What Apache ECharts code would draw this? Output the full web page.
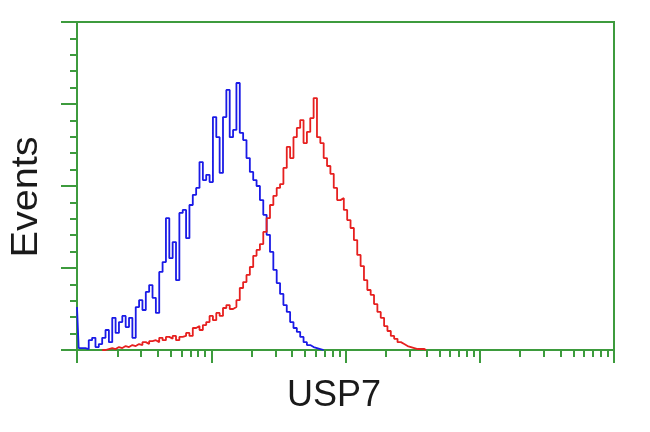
<!DOCTYPE html>
<html>
<head>
<meta charset="utf-8">
<script src="https://cdn.jsdelivr.net/npm/echarts@6/dist/echarts.min.js"></script>
<style>
html,body{margin:0;padding:0;background:#fff;}
#chart{width:650px;height:432px;}
</style>
</head>
<body>
<div id="chart"></div>
<script>
// log10(fluorescence) bin positions
const channels = [
0.000,0.025,0.050,0.075,0.100,0.125,0.150,0.175,0.200,0.225,
0.250,0.275,0.300,0.325,0.350,0.375,0.400,0.425,0.450,0.475,
0.500,0.525,0.550,0.575,0.600,0.625,0.650,0.675,0.700,0.725,
0.750,0.775,0.800,0.825,0.850,0.875,0.900,0.925,0.950,0.975,
1.000,1.025,1.050,1.075,1.100,1.125,1.150,1.175,1.200,1.225,
1.250,1.275,1.300,1.325,1.350,1.375,1.400,1.425,1.450,1.475,
1.500,1.525,1.550,1.575,1.600,1.625,1.650,1.675,1.700,1.725,
1.750,1.775,1.800,1.825,1.850,1.875,1.900,1.925,1.950,1.975,
2.000,2.025,2.050,2.075,2.100,2.125,2.150,2.175,2.200,2.225,
2.250,2.275,2.300,2.325,2.350,2.375,2.400,2.425,2.450,2.475,
2.500,2.525,2.550,2.575,2.600
];
// Events (% of max scale) - isotype control (blue)
const blueEvents = [
13.1,0.6,0.6,0.3,3.0,3.7,0.9,1.8,3.7,6.1,
2.4,9.8,5.2,8.5,10.4,7.0,9.8,3.7,13.1,15.2,
12.2,17.7,19.8,15.9,11.3,23.8,26.8,40.2,28.0,32.9,
21.3,41.8,42.7,34.1,44.2,47.3,49.4,57.3,51.8,53.4,
51.2,71.0,64.9,54.0,71.0,79.3,64.9,67.1,81.4,66.2,
64.0,58.5,54.3,51.8,50.0,45.7,41.2,35.1,29.9,24.4,
20.4,17.1,13.7,11.6,8.5,6.7,5.5,4.0,2.4,1.5,
0.9,0.6,0.3,0.0,null,null,null,null,null,null,
null,null,null,null,null,null,null,null,null,null,
null,null,null,null,null,null,null,null,null,null,
null,null,null,null,null
];
// Events - USP7 stained (red)
const redEvents = [
null,null,null,null,null,null,null,null,0.0,0.3,
0.6,0.3,0.9,0.6,1.2,0.9,1.5,1.2,1.8,1.5,
2.4,1.8,2.7,3.0,2.4,3.7,3.0,4.0,3.4,4.3,
3.0,4.0,4.3,5.2,4.3,6.7,7.3,6.1,7.6,8.5,
10.4,9.1,11.3,10.4,12.8,13.7,12.5,13.1,15.2,18.9,
20.7,22.9,25.3,28.7,30.5,32.3,36.0,40.2,44.2,47.0,
49.4,50.6,55.5,61.9,58.5,64.9,67.7,70.1,63.1,66.5,
70.7,76.8,64.9,63.1,58.5,56.1,53.7,49.4,45.7,46.3,
42.7,39.6,37.2,33.5,29.0,25.6,21.3,18.3,16.8,14.0,
11.6,9.8,7.3,5.8,4.3,3.4,2.4,1.8,1.2,0.9,
0.6,0.3,0.3,0.3,0.0
];
const decades = [0, 1, 2, 3];
const minorMultipliers = [2, 3, 4, 5, 6, 7, 8, 9];
const xTitle = 'USP7';
const yTitle = 'Events';

const GREEN = '#3d9b3d';
const TEXT = '#1a1a1a';
const minorXTicks = [];
decades.forEach(d => minorMultipliers.forEach(m => minorXTicks.push(d + Math.log10(m))));

const pair = (ys) => channels.map((x, i) => [x, ys[i]]);

const chart = echarts.init(document.getElementById('chart'), null, {renderer: 'canvas'});
chart.setOption({
  animation: false,
  backgroundColor: '#ffffff',
  grid: {left: 77, right: 36, top: 22, bottom: 82, show: true, borderColor: GREEN, borderWidth: 2, backgroundColor: 'transparent'},
  graphic: [{
    type: 'text', x: 334, y: 396, silent: true,
    style: {text: xTitle, fontFamily: 'Liberation Sans', fontSize: 36, fill: TEXT, align: 'center', verticalAlign: 'middle'}
  }, {
    type: 'text', x: 27, y: 197, rotation: Math.PI / 2, scaleX: 1.1, silent: true,
    style: {text: yTitle, fontFamily: 'Liberation Sans', fontSize: 36, fill: TEXT, align: 'center', verticalAlign: 'middle'}
  }],
  xAxis: [{
    type: 'value', min: 0, max: 4, interval: 1,
    axisLine: {show: true, onZero: false, lineStyle: {color: GREEN, width: 2}},
    axisTick: {show: true, inside: false, length: 13, lineStyle: {color: GREEN, width: 2}},
    axisLabel: {show: false},
    splitLine: {show: false}
  }, {
    type: 'value', min: 0, max: 4, position: 'bottom', gridIndex: 0,
    axisLine: {show: false},
    axisTick: {show: true, inside: false, length: 7, customValues: minorXTicks, lineStyle: {color: GREEN, width: 2}},
    axisLabel: {show: false},
    splitLine: {show: false}
  }],
  yAxis: {
    type: 'value', min: 0, max: 100, interval: 25,
    axisLine: {show: true, lineStyle: {color: GREEN, width: 2}},
    axisTick: {show: true, inside: false, length: 16, lineStyle: {color: GREEN, width: 2}},
    minorTick: {show: true, splitNumber: 5, length: 7, lineStyle: {color: GREEN, width: 2}},
    axisLabel: {show: false},
    splitLine: {show: false}
  },
  series: [{
    type: 'line', name: 'control', data: pair(blueEvents), step: 'middle',
    showSymbol: false, connectNulls: false,
    lineStyle: {color: '#1a1ae6', width: 1.8}
  }, {
    type: 'line', name: 'USP7', data: pair(redEvents), step: 'middle',
    showSymbol: false, connectNulls: false,
    lineStyle: {color: '#e6201f', width: 1.8}
  }]
});
</script>
</body>
</html>
